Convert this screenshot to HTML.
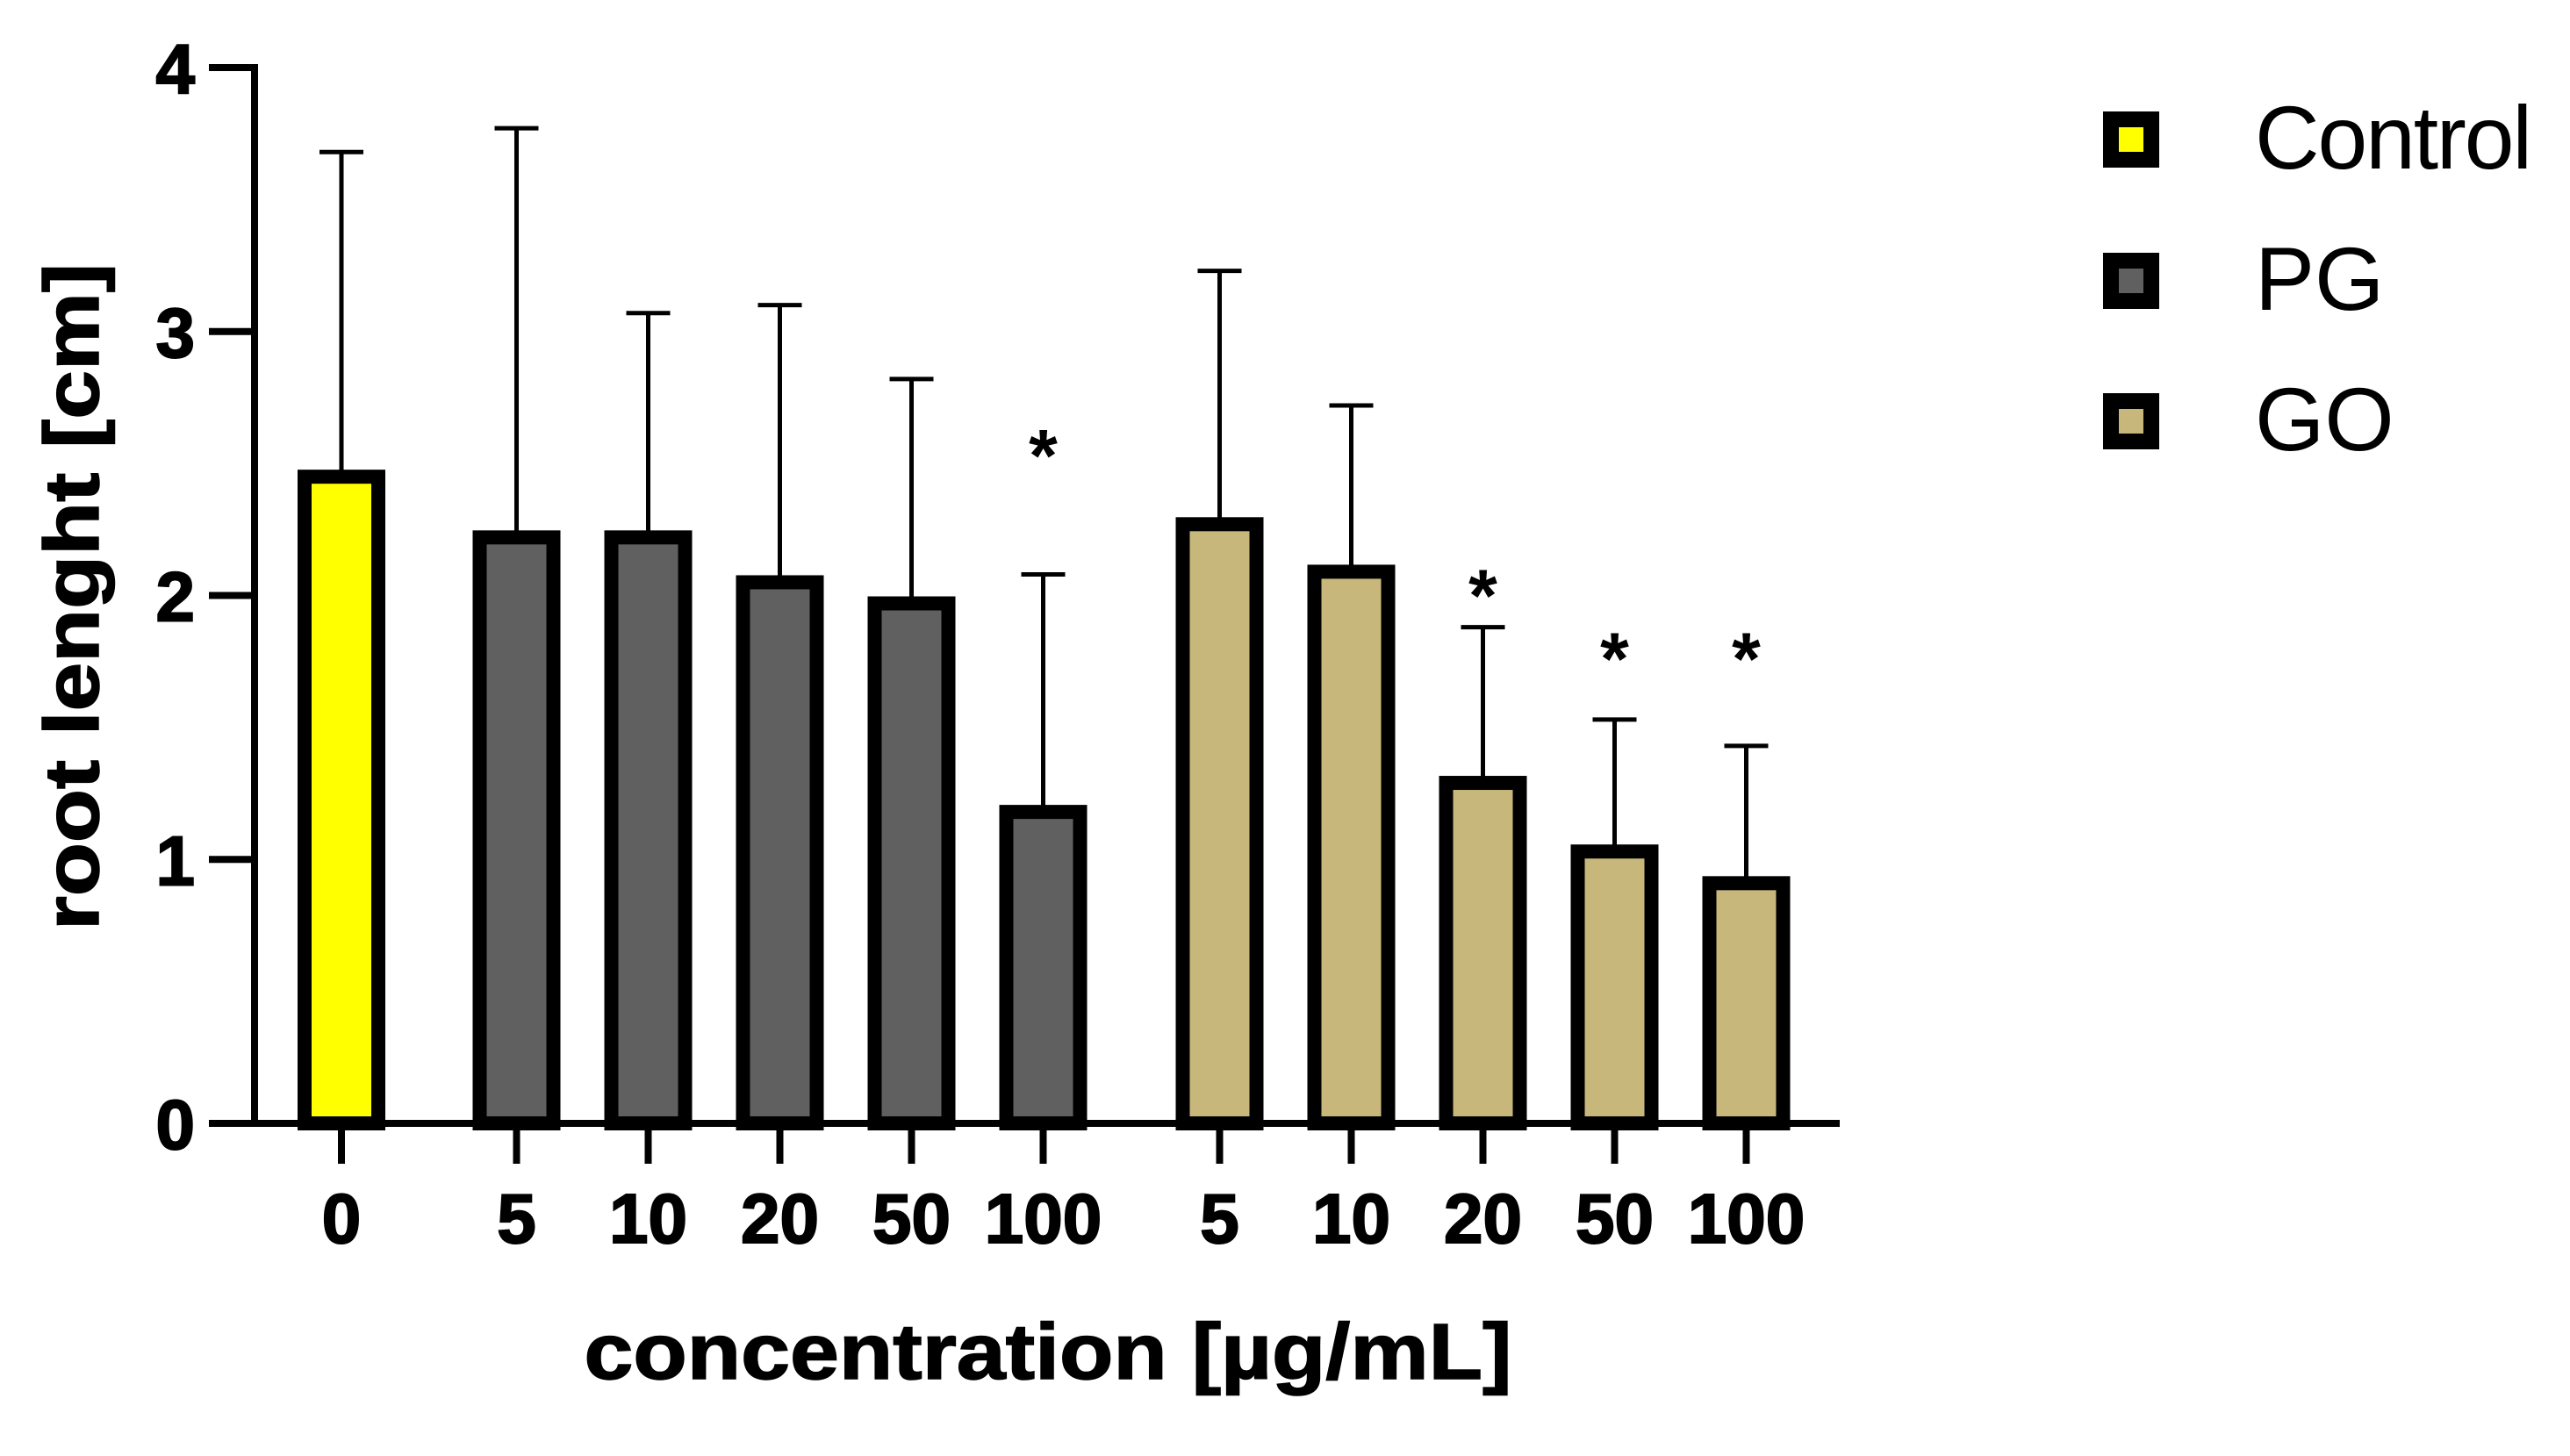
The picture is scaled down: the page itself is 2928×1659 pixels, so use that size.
<!DOCTYPE html>
<html><head><meta charset="utf-8"><style>
html,body{margin:0;padding:0;background:#fff;}
svg{display:block;}
text{font-family:"Liberation Sans",Arial,sans-serif;}
</style></head><body>
<svg id="chart" width="2928" height="1659" viewBox="0 0 2928 1659" xmlns="http://www.w3.org/2000/svg">
<g id="plot"></g>
<text transform="translate(112,680) rotate(-90)" text-anchor="middle" font-size="88" font-weight="bold" stroke="#000" stroke-width="1.5" textLength="760" lengthAdjust="spacingAndGlyphs">root lenght [cm]</text>
<text x="1194" y="1571" text-anchor="middle" font-size="90" font-weight="bold" stroke="#000" stroke-width="1.5" textLength="1057" lengthAdjust="spacingAndGlyphs">concentration [µg/mL]</text>
<g id="legend"></g>
</svg>
<script>
const categories = ["0","5","10","20","50","100","5","10","20","50","100"];
const groups = ["Control","PG","PG","PG","PG","PG","GO","GO","GO","GO","GO"];
const means = [2.45,2.22,2.22,2.05,1.97,1.18,2.27,2.09,1.29,1.03,0.91];
const upperErr = [3.68,3.77,3.07,3.10,2.82,2.08,3.23,2.72,1.88,1.53,1.43];
const starValues = [null,null,null,null,null,2.58,null,null,2.05,1.81,1.81];
const yTicks = [0,1,2,3,4];
const legendLabels = ["Control","PG","GO"];

const NS="http://www.w3.org/2000/svg";
const colors={Control:"#ffff00",PG:"#606060",GO:"#c8b77b"};
const y0=1280, yTop=77, yMax=4;
function yScale(v){return y0-(y0-yTop)*v/yMax;}
function slotIndex(i){ if(i===0) return 0; if(i<=5) return 1.33+(i-1); return 6.67+(i-6); }
function xScale(i){return 389+150*slotIndex(i);}
function el(tag,attrs,parent){const e=document.createElementNS(NS,tag);for(const k in attrs)e.setAttribute(k,attrs[k]);parent.appendChild(e);return e;}
const plot=document.getElementById('plot');

means.forEach((v,i)=>{
  const cx=xScale(i), w=84;
  const eb=el('line',{x1:cx,x2:cx,y1:yScale(upperErr[i]),y2:yScale(v),stroke:'#000','stroke-width':5},plot);
  
  
  const cap=el('line',{x1:cx-25,x2:cx+25,y1:yScale(upperErr[i]),y2:yScale(upperErr[i]),stroke:'#000','stroke-width':5},plot);
  
  
  const r=el('rect',{x:cx-w/2,y:yScale(v),width:w,height:y0-yScale(v),fill:colors[groups[i]],stroke:'#000','stroke-width':16},plot);
  
  
  if(starValues[i]!==null){
    const s=el('text',{x:cx,y:yScale(starValues[i])+44,'text-anchor':'middle','font-size':84,'font-weight':'bold'},plot);
    s.textContent='*';
    
    
  }
  const t=el('line',{x1:cx,x2:cx,y1:y0,y2:y0+46,stroke:'#000','stroke-width':8},plot);
  
  
  const lbl=el('text',{x:cx,y:1416,'text-anchor':'middle','font-size':80,'font-weight':'bold',stroke:'#000','stroke-width':2},plot);
  lbl.textContent=categories[i];
  
  
});

const ya=el('line',{x1:290,x2:290,y1:yTop-4,y2:y0+4,stroke:'#000','stroke-width':8},plot);


const xa=el('line',{x1:238,x2:2096,y1:y0,y2:y0,stroke:'#000','stroke-width':8},plot);


yTicks.forEach(v=>{
  const t=el('line',{x1:238,x2:290,y1:yScale(v),y2:yScale(v),stroke:'#000','stroke-width':8},plot);
  
  
  const l=el('text',{x:222,y:yScale(v)+29,'text-anchor':'end','font-size':80,'font-weight':'bold',stroke:'#000','stroke-width':2},plot);
  l.textContent=String(v);
  
  
});

const leg=document.getElementById('legend');
const legY=[159,320,480];
legendLabels.forEach((name,i)=>{
  const sq=el('rect',{x:2405,y:legY[i]-23,width:46,height:46,fill:colors[name],stroke:'#000','stroke-width':18},leg);
  
  
  const t=el('text',{x:2569,y:legY[i]+33,'font-size':102},leg);
  t.textContent=name;
  if(name==='Control') t.setAttribute('textLength','316');
  
  
});
</script>
</body></html>
